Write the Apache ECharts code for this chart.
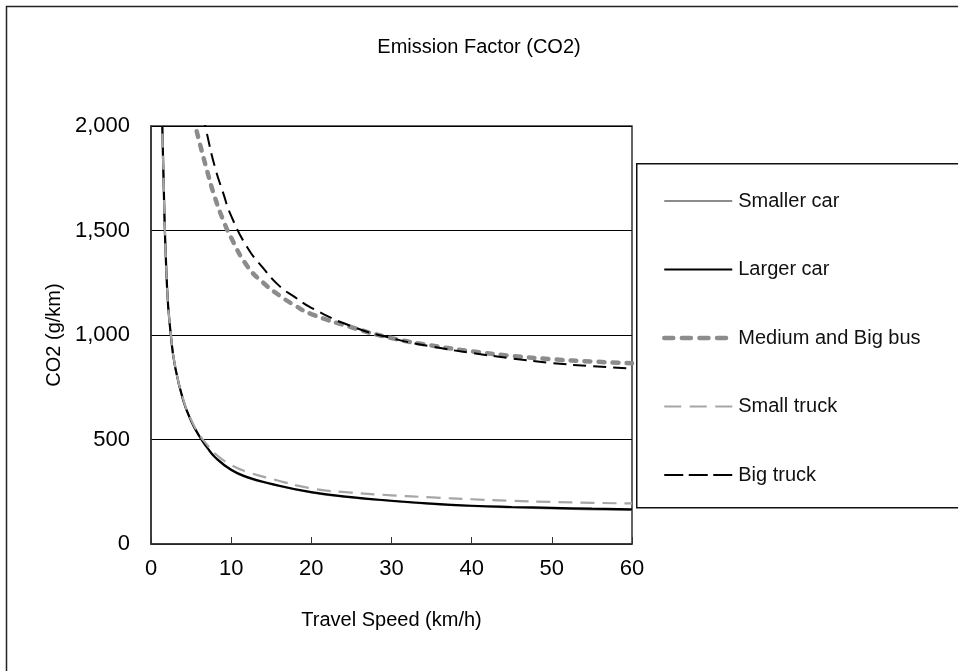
<!DOCTYPE html>
<html>
<head>
<meta charset="utf-8">
<script src="https://cdn.jsdelivr.net/npm/echarts@6/dist/echarts.min.js"></script>
<style>
  html, body { margin: 0; padding: 0; background: #fff; }
  #chart { width: 958px; height: 671px; }
</style>
</head>
<body>
<div id="chart"></div>
<script>
// ---- data ----
const xTicks = [0, 10, 20, 30, 40, 50, 60];
const yTicks = [0, 500, 1000, 1500, 2000];

const speedsCar  = [1, 1.5, 2, 2.5, 3, 4, 5, 6, 7, 8, 10, 12, 15, 20, 25, 30, 35, 40, 45, 50, 55, 60];
const smallerCar = [2700, 1850, 1230, 990, 848, 688, 588, 516, 460, 413, 353, 318, 286, 246, 222, 205, 191, 181, 174, 169, 165, 162];
const largerCar  = [2700, 1850, 1230, 990, 850, 690, 590, 518, 462, 415, 355, 320, 288, 248, 224, 207, 193, 183, 177, 173, 169, 166];
const smallTruck = [2700, 1855, 1235, 995, 855, 695, 595, 525, 475, 432, 378, 345, 312, 266, 246, 233, 223, 214, 207, 201, 197, 194];

const speedsBus = [5.7, 7, 8, 9, 10, 12, 14, 16, 18, 20, 25, 30, 35, 40, 45, 50, 55, 60];
const bus       = [1975, 1785, 1655, 1550, 1465, 1330, 1250, 1190, 1140, 1100, 1037, 985, 950, 922, 900, 884, 873, 865];

const speedsTruck = [6, 7, 8, 9, 10, 12, 14, 16, 18, 20, 25, 30, 35, 40, 45, 50, 55, 60];
const bigTruck    = [2150, 1960, 1800, 1680, 1570, 1420, 1320, 1235, 1180, 1130, 1042, 985, 945, 914, 888, 866, 851, 840];

const seriesNames = ['Smaller car', 'Larger car', 'Medium and Big bus', 'Small truck', 'Big truck'];
const titleText = 'Emission Factor (CO2)';
const xName = 'Travel Speed (km/h)';
const yName = 'CO2 (g/km)';

function pairs(xs, ys) { return xs.map((x, i) => [x, ys[i]]); }

const FONT = '"Liberation Sans", Arial, sans-serif';
const chart = echarts.init(document.getElementById('chart'), null, { renderer: 'canvas' });

const styles = [
  { color: '#8c8c8c', width: 1.8, type: 'solid' },
  { color: '#000000', width: 2.2, type: 'solid' },
  { color: '#8c8c8c', width: 4.5, type: [6, 8], cap: 'round' },
  { color: '#a6a6a6', width: 2.2, type: [14, 8] },
  { color: '#000000', width: 2, type: [13, 7] }
];
const legendStyles = [
  { color: '#8c8c8c', width: 1.8, type: 'solid' },
  { color: '#000000', width: 2.2, type: 'solid' },
  { color: '#8c8c8c', width: 4.5, type: [9, 8.6], cap: 'round' },
  { color: '#a6a6a6', width: 2.2, type: [17, 8.5] },
  { color: '#000000', width: 2.2, type: [19, 5.5] }
];

function lineSeries(name, data, style) {
  return {
    name: name,
    type: 'line',
    data: data,
    symbol: 'none',
    smooth: 0.5,
    clip: true,
    silent: true,
    lineStyle: style,
    itemStyle: { color: style.color },
    emphasis: { disabled: true }
  };
}

chart.setOption({
  animation: false,
  backgroundColor: '#ffffff',
  textStyle: { fontFamily: FONT },
  title: {
    text: titleText,
    left: 'center',
    top: 32,
    textStyle: { fontFamily: FONT, fontSize: 20, fontWeight: 'normal', color: '#000' }
  },
  graphic: [
    { type: 'rect', left: 4, top: 4, shape: { width: 1000, height: 700 },
      style: { fill: 'none', stroke: '#222', lineWidth: 1.5 }, silent: true, z: 0 },
    { type: 'rect', left: 636, top: 163, shape: { width: 400, height: 344 },
      style: { fill: '#fff', stroke: '#111', lineWidth: 1.5 }, silent: true, z: 1 }
  ],
  legend: {
    orient: 'vertical',
    left: 662,
    top: 191,
    padding: 0,
    itemWidth: 68,
    itemHeight: 14,
    itemGap: 48.5,
    selectedMode: false,
    z: 5,
    itemStyle: { opacity: 0 },
    textStyle: { fontFamily: FONT, fontSize: 20, color: '#111', padding: [0, 0, 0, 1] },
    data: seriesNames.map((n, i) => ({ name: n, lineStyle: legendStyles[i] }))
  },
  grid: {
    left: 151, top: 126, right: 326, bottom: 127,
    show: true, borderColor: '#333', borderWidth: 1.5, backgroundColor: 'transparent'
  },
  xAxis: {
    type: 'value',
    min: xTicks[0], max: xTicks[xTicks.length - 1], interval: xTicks[1] - xTicks[0],
    name: xName, nameLocation: 'middle', nameGap: 66,
    nameTextStyle: { fontFamily: FONT, fontSize: 20, color: '#000' },
    axisLine: { show: true, lineStyle: { color: '#333', width: 1.5 } },
    axisTick: { show: true, inside: true, length: 7, lineStyle: { color: '#333', width: 1 } },
    axisLabel: { fontFamily: FONT, fontSize: 22, color: '#000', margin: 14 },
    splitLine: { show: false }
  },
  yAxis: {
    type: 'value',
    min: yTicks[0], max: yTicks[yTicks.length - 1], interval: yTicks[1] - yTicks[0],
    name: yName, nameLocation: 'middle', nameGap: 80, nameRotate: 90,
    nameTextStyle: { fontFamily: FONT, fontSize: 20, color: '#000' },
    axisLine: { show: true, lineStyle: { color: '#333', width: 1.5 } },
    axisTick: { show: false },
    axisLabel: { fontFamily: FONT, fontSize: 22, color: '#000', margin: 21,
      formatter: v => v.toLocaleString('en-US') },
    splitLine: { show: true, lineStyle: { color: '#000', width: 1.2 } }
  },
  series: [
    lineSeries(seriesNames[0], pairs(speedsCar, smallerCar), styles[0]),
    lineSeries(seriesNames[1], pairs(speedsCar, largerCar), styles[1]),
    lineSeries(seriesNames[2], pairs(speedsBus, bus), styles[2]),
    lineSeries(seriesNames[3], pairs(speedsCar, smallTruck), styles[3]),
    lineSeries(seriesNames[4], pairs(speedsTruck, bigTruck), styles[4])
  ]
});
</script>
</body>
</html>
